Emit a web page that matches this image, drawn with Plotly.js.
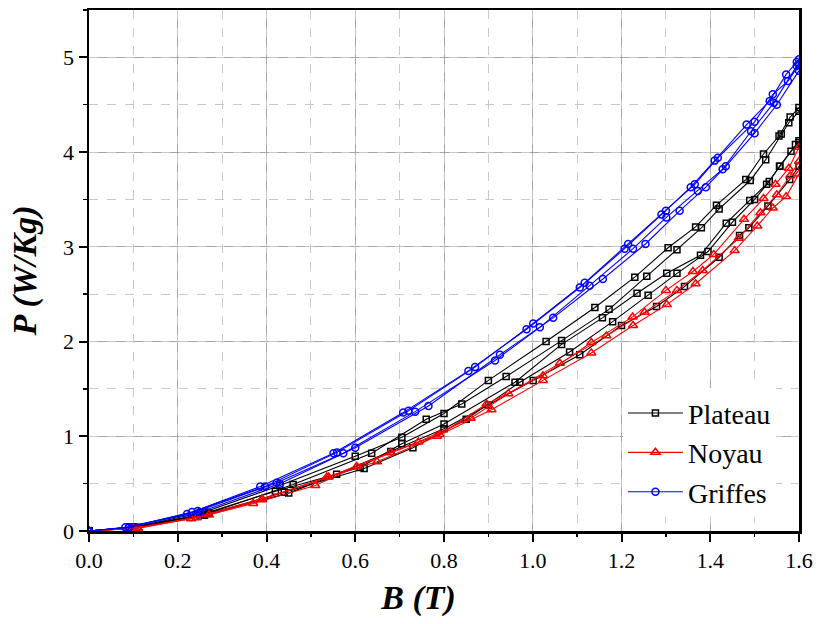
<!DOCTYPE html>
<html>
<head>
<meta charset="utf-8">
<script src="https://cdn.plot.ly/plotly-3.0.1.min.js"></script>
<style>html,body{margin:0;padding:0;background:#fff;}#chart{width:823px;height:624px;}</style>
</head>
<body>
<div id="chart"></div>
<script>
// Plateau (black, squares)
const plateauB1 = [0, 0.10, 0.26, 0.43, 0.60, 0.705, 0.80, 0.90, 1.03, 1.14, 1.23, 1.305, 1.367, 1.414, 1.48, 1.52, 1.555, 1.58, 1.60];
const plateauP1 = [0, 0.04, 0.20, 0.48, 0.79, 0.99, 1.24, 1.59, 2.00, 2.36, 2.68, 2.99, 3.21, 3.44, 3.71, 3.98, 4.17, 4.37, 4.47];
const plateauB2 = [0, 0.11, 0.27, 0.46, 0.637, 0.76, 0.84, 0.94, 1.065, 1.172, 1.257, 1.325, 1.38, 1.42, 1.49, 1.525, 1.56, 1.577, 1.60];
const plateauP2 = [0, 0.04, 0.19, 0.49, 0.82, 1.18, 1.34, 1.63, 2.01, 2.34, 2.69, 2.97, 3.20, 3.40, 3.70, 3.92, 4.19, 4.31, 4.43];
const plateauB3 = [0, 0.10, 0.25, 0.42, 0.611, 0.705, 0.80, 0.96, 1.065, 1.157, 1.235, 1.302, 1.378, 1.436, 1.489, 1.527, 1.557, 1.582, 1.60];
const plateauP3 = [0, 0.04, 0.17, 0.42, 0.67, 0.92, 1.13, 1.57, 1.97, 2.25, 2.51, 2.72, 2.91, 3.25, 3.49, 3.66, 3.85, 4.01, 4.10];
const plateauB4 = [0, 0.10, 0.26, 0.44, 0.62, 0.73, 0.85, 0.971, 1.083, 1.18, 1.26, 1.325, 1.395, 1.45, 1.50, 1.533, 1.556, 1.592, 1.60];
const plateauP4 = [0, 0.04, 0.17, 0.41, 0.66, 0.88, 1.18, 1.57, 1.89, 2.21, 2.49, 2.72, 2.95, 3.26, 3.50, 3.69, 3.85, 4.08, 4.12];
const plateauB5 = [0, 0.10, 0.26, 0.45, 0.558, 0.68, 0.80, 0.90, 1.001, 1.106, 1.20, 1.279, 1.342, 1.42, 1.466, 1.487, 1.53, 1.579, 1.60];
const plateauP5 = [0, 0.03, 0.17, 0.40, 0.60, 0.84, 1.08, 1.33, 1.59, 1.86, 2.17, 2.37, 2.58, 2.89, 3.12, 3.20, 3.43, 3.71, 3.85];

// Noyau (red, triangles)
const noyauB1 = [0, 0.11, 0.23, 0.39, 0.54, 0.68, 0.79, 0.896, 1.023, 1.132, 1.225, 1.30, 1.361, 1.408, 1.476, 1.52, 1.547, 1.577, 1.60];
const noyauP1 = [0, 0.03, 0.13, 0.34, 0.57, 0.83, 1.02, 1.34, 1.64, 1.99, 2.26, 2.54, 2.74, 2.92, 3.29, 3.51, 3.66, 3.83, 4.05];
const noyauB2 = [0, 0.10, 0.243, 0.37, 0.51, 0.603, 0.742, 0.86, 0.945, 1.061, 1.166, 1.252, 1.325, 1.383, 1.464, 1.513, 1.55, 1.58, 1.60];
const noyauP2 = [0, 0.03, 0.14, 0.29, 0.48, 0.68, 0.94, 1.19, 1.45, 1.77, 2.06, 2.31, 2.54, 2.75, 3.09, 3.36, 3.55, 3.75, 3.90];
const noyauB3 = [0, 0.11, 0.27, 0.39, 0.536, 0.649, 0.784, 0.907, 1.023, 1.132, 1.226, 1.302, 1.367, 1.455, 1.506, 1.541, 1.571, 1.60];
const noyauP3 = [0, 0.03, 0.17, 0.33, 0.57, 0.73, 1.00, 1.28, 1.59, 1.88, 2.17, 2.39, 2.61, 2.96, 3.22, 3.41, 3.53, 3.77];

// Griffes (blue, circles)
const griffesB1 = [0, 0.082, 0.221, 0.386, 0.551, 0.708, 0.855, 0.986, 1.106, 1.207, 1.29, 1.356, 1.41, 1.482, 1.534, 1.571, 1.595, 1.60];
const griffesP1 = [0, 0.04, 0.18, 0.47, 0.82, 1.25, 1.69, 2.13, 2.57, 2.98, 3.34, 3.63, 3.91, 4.29, 4.54, 4.82, 4.95, 4.98];
const griffesB2 = [0, 0.09, 0.232, 0.397, 0.559, 0.72, 0.87, 1.001, 1.117, 1.215, 1.30, 1.365, 1.417, 1.50, 1.541, 1.575, 1.60];
const griffesP2 = [0, 0.04, 0.20, 0.47, 0.83, 1.27, 1.73, 2.19, 2.62, 3.03, 3.38, 3.66, 3.94, 4.32, 4.61, 4.75, 4.92];
const griffesB3 = [0, 0.09, 0.245, 0.423, 0.573, 0.735, 0.915, 1.016, 1.128, 1.226, 1.301, 1.372, 1.428, 1.492, 1.543, 1.595, 1.60];
const griffesP3 = [0, 0.04, 0.21, 0.51, 0.82, 1.26, 1.80, 2.15, 2.59, 2.98, 3.31, 3.59, 3.82, 4.22, 4.52, 4.91, 4.93];
const griffesB4 = [0, 0.09, 0.25, 0.43, 0.60, 0.765, 0.926, 1.046, 1.158, 1.254, 1.331, 1.39, 1.435, 1.50, 1.55, 1.60];
const griffesP4 = [0, 0.04, 0.20, 0.50, 0.88, 1.32, 1.86, 2.25, 2.66, 3.03, 3.38, 3.63, 3.85, 4.20, 4.50, 4.86];

const xTickVals = [0, 0.2, 0.4, 0.6, 0.8, 1.0, 1.2, 1.4, 1.6];
const xTickText = ['0.0', '0.2', '0.4', '0.6', '0.8', '1.0', '1.2', '1.4', '1.6'];
const yTickVals = [0, 1, 2, 3, 4, 5];
const yTickText = ['0', '1', '2', '3', '4', '5'];

const seriesNames = ['Plateau', 'Noyau', 'Griffes'];
const seriesColors = ['#000000', '#ff0000', '#0000ff'];
const seriesSymbols = ['square-open', 'triangle-up-open', 'circle-open'];
const seriesSizes = [6, 8, 7];

const fam = 'Liberation Serif';

const groups = [
  [[plateauB1, plateauP1], [plateauB2, plateauP2], [plateauB3, plateauP3], [plateauB4, plateauP4], [plateauB5, plateauP5]],
  [[noyauB1, noyauP1], [noyauB2, noyauP2], [noyauB3, noyauP3]],
  [[griffesB1, griffesP1], [griffesB2, griffesP2], [griffesB3, griffesP3], [griffesB4, griffesP4]]
];

const traces = [];
groups.forEach((curves, gi) => {
  curves.forEach((c, ci) => {
    traces.push({
      x: c[0], y: c[1], type: 'scatter', mode: 'lines+markers',
      name: seriesNames[gi], legendgroup: seriesNames[gi], showlegend: ci === 0,
      line: {color: seriesColors[gi], width: 1.1},
      marker: {symbol: seriesSymbols[gi], size: seriesSizes[gi], color: seriesColors[gi], line: {width: 1.5, color: seriesColors[gi]}}
    });
  });
});

// minor grid + minor ticks drawn by overlaid axes (no labels)
const layout = {
  width: 823, height: 624,
  margin: {l: 89, r: 24, t: 10, b: 93},
  font: {family: fam, color: '#000'},
  legend: {
    x: 0.752, y: 0.274, xanchor: 'left', yanchor: 'top',
    bgcolor: '#ffffff', borderwidth: 0,
    font: {family: fam, size: 28},
    tracegroupgap: 0, itemwidth: 55
  },
  xaxis2: {
    range: [0, 1.6], dtick: 0.1, tick0: 0, overlaying: 'x', anchor: 'y', side: 'bottom',
    showticklabels: false, ticks: 'outside', ticklen: 5, tickwidth: 1.5, tickcolor: '#000',
    showgrid: true, gridcolor: '#c8c8c8', griddash: 'dash', gridwidth: 1, zeroline: false, showline: false
  },
  yaxis2: {
    range: [0, 5.5], dtick: 0.5, tick0: 0, overlaying: 'y', anchor: 'x', side: 'left',
    showticklabels: false, ticks: 'outside', ticklen: 5, tickwidth: 1.5, tickcolor: '#000',
    showgrid: true, gridcolor: '#c8c8c8', griddash: 'dash', gridwidth: 1, zeroline: false, showline: false
  },
  xaxis: {
    range: [0, 1.6], tickvals: xTickVals, ticktext: xTickText,
    ticks: 'outside', ticklen: 8, tickwidth: 2, tickcolor: '#000',
    showline: true, linewidth: 2.5, linecolor: '#000', mirror: true,
    showgrid: true, gridcolor: '#a6a6a6', gridwidth: 1, zeroline: false,
    tickfont: {family: fam, size: 22},
    title: {text: '<b><i>B (T)</i></b>&nbsp;&nbsp;&nbsp;&nbsp;&nbsp;&nbsp;', font: {family: fam, size: 34}, standoff: 14}
  },
  yaxis: {
    range: [0, 5.5], tickvals: yTickVals, ticktext: yTickText,
    ticks: 'outside', ticklen: 8, tickwidth: 2, tickcolor: '#000',
    showline: true, linewidth: 2.5, linecolor: '#000', mirror: true,
    showgrid: true, gridcolor: '#a6a6a6', gridwidth: 1, zeroline: false,
    tickfont: {family: fam, size: 22},
    title: {text: '<b><i>P (W/Kg)</i></b>', font: {family: fam, size: 34}, standoff: 16}
  }
};

// an invisible trace so the overlaid minor-grid axes are drawn
traces.unshift({x: [0], y: [0], xaxis: 'x2', yaxis: 'y2', type: 'scatter', mode: 'markers',
  marker: {opacity: 0}, showlegend: false, hoverinfo: 'skip'});

Plotly.newPlot('chart', traces, layout, {displayModeBar: false, staticPlot: true});
</script>
</body>
</html>
